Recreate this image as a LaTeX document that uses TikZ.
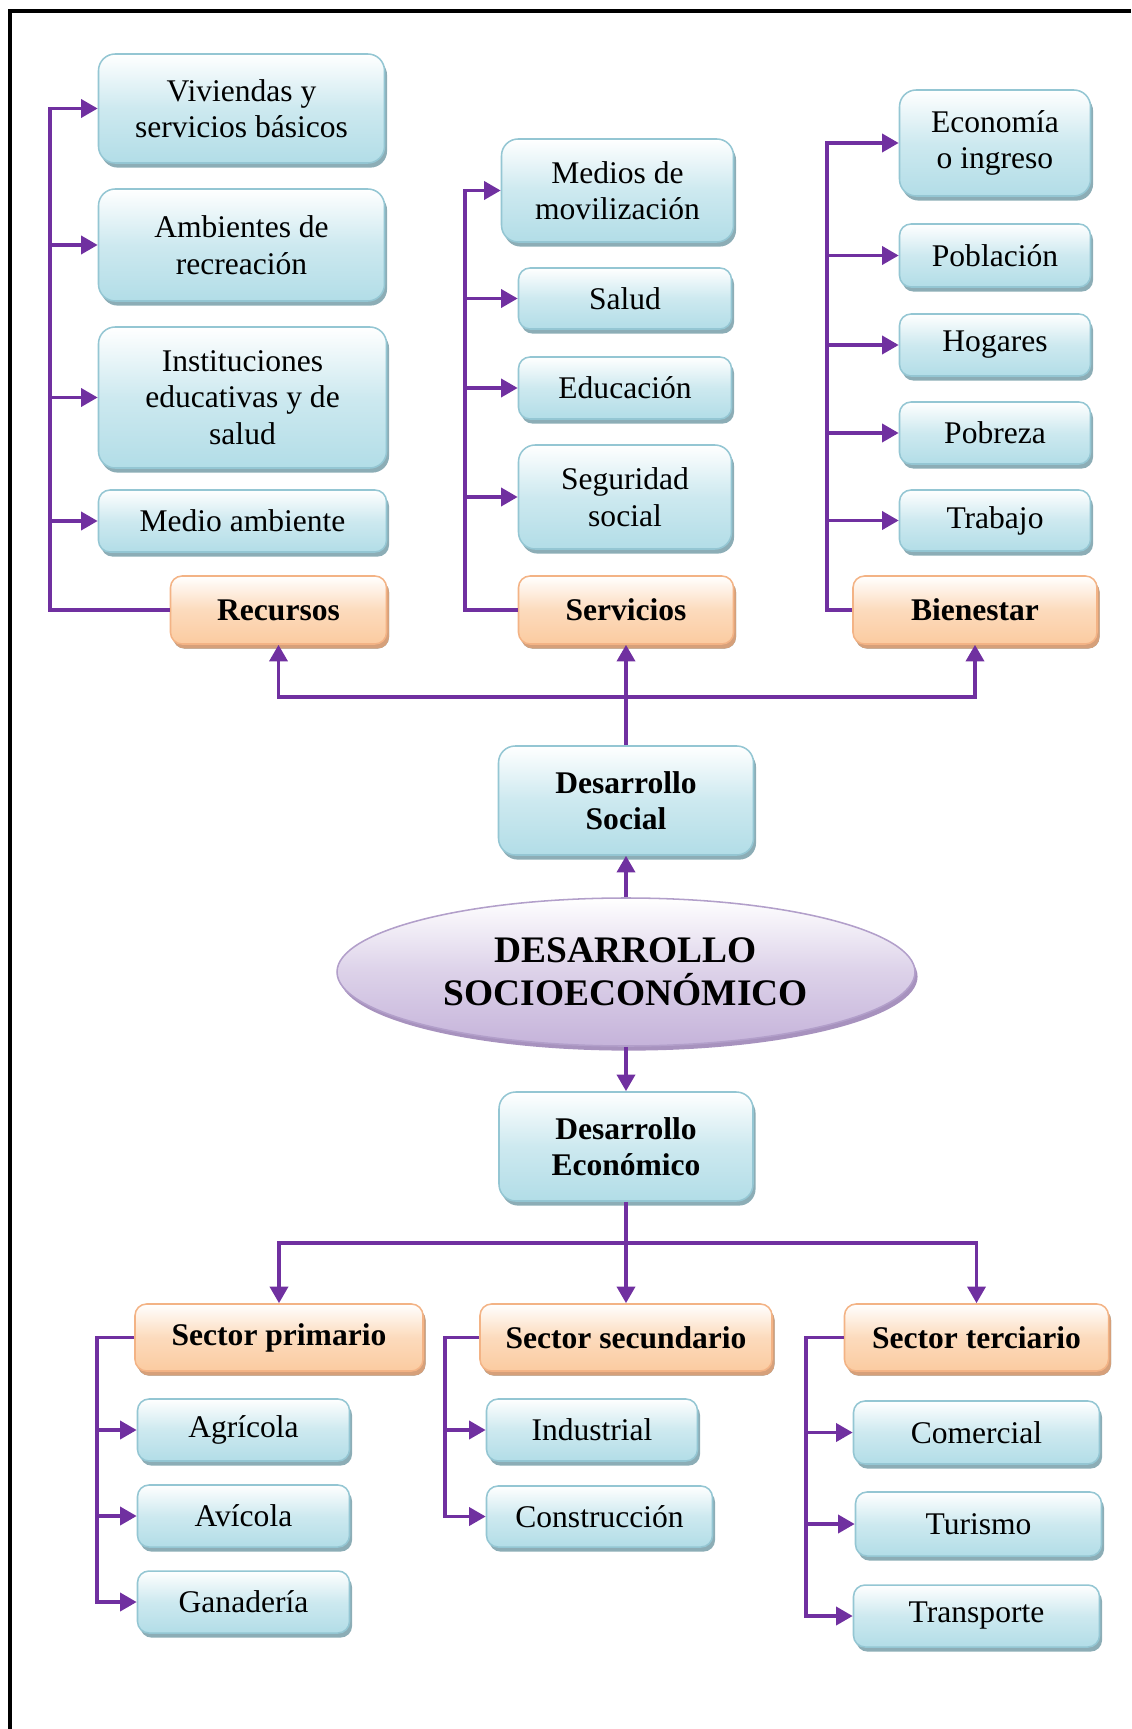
\documentclass[tikz,border=0pt]{standalone}
\usepackage{fontspec}
\setmainfont{Liberation Serif}
\usetikzlibrary{arrows.meta,shapes.geometric,shadows}
\newlength\pxu
\setlength\pxu{0.0137cm}
\definecolor{morado}{HTML}{7030A0}
\definecolor{azulbase}{HTML}{B2DDE7}
\definecolor{azulborde}{HTML}{94C6D3}
\definecolor{azulsombra}{HTML}{8CADB6}
\definecolor{narbase}{HTML}{FBCBA0}
\definecolor{narborde}{HTML}{F3B385}
\definecolor{narsombra}{HTML}{D6A07A}
\definecolor{lilabase}{HTML}{C5B3DA}
\definecolor{lilaborde}{HTML}{B29FCA}
\definecolor{lilasombra}{HTML}{A792BE}

\begin{document}
\begin{tikzpicture}[x=0.0137cm, y=-0.0137cm,
  tam/.style 2 args={minimum width={(#1-3)*\pxu}, minimum height={(#2-4)*\pxu}},
  caja/.style={rectangle, rounded corners=4.5pt, draw=azulborde, line width=0.6pt,
    top color=white, bottom color=azulbase, middle color=azulbase!65!white,
    drop shadow={shadow xshift=1pt, shadow yshift=-1.8pt, fill=azulsombra, opacity=1},
    align=center, inner sep=0pt, font=\fontsize{12.3}{14.2}\selectfont},
  alta/.style={rounded corners=6.5pt},
  grupo/.style={caja, draw=narborde, top color=white, bottom color=narbase,
    middle color=narbase!70!white,
    drop shadow={shadow xshift=1pt, shadow yshift=-1.8pt, fill=narsombra, opacity=1},
    font=\fontsize{12.3}{14.2}\selectfont\bfseries},
  central/.style={ellipse, draw=lilaborde, line width=0.6pt, inner sep=0pt,
    top color=white, bottom color=lilabase, middle color=lilabase!60!white,
    drop shadow={shadow xshift=1pt, shadow yshift=-1.8pt, fill=lilasombra, opacity=1},
    align=center, font=\fontsize{14.6}{16.8}\selectfont\bfseries},
  flecha/.style={draw=morado, line width=1.5pt, -{Triangle[length=6.5pt,width=7pt]}},
  linea/.style={draw=morado, line width=1.5pt}]
  \useasboundingbox (0,0) rectangle (1131,1729);
  % marco: solo se ven los lados izquierdo y superior
  \draw[line width=1.6pt] (10,1729) -- (10,11) -- (1131,11);

  % Recursos
  \node[caja, alta, tam={289}{113}] (viv) at (241.5,108.5) {Viviendas y\\servicios básicos};
  \node[caja, alta, tam={289}{116}] (amb) at (241.5,245) {Ambientes de\\recreación};
  \node[caja, alta, tam={291}{145}] (ins) at (242.5,397.5) {Instituciones\\educativas y de\\salud};
  \node[caja, tam={291}{66}] (med) at (242.5,521) {Medio ambiente};
  \node[grupo, tam={219}{72}] (rec) at (278.5,610) {Recursos};
  \coordinate (recT) at (50,610);

  % Servicios
  \node[caja, alta, tam={235}{107}] (mov) at (617.5,190.5) {Medios de\\movilización};
  \node[caja, tam={216}{65}] (sal) at (625,298.5) {Salud};
  \node[caja, tam={216}{66}] (edu) at (625,388) {Educación};
  \node[caja, alta, tam={216}{108}] (seg) at (625,497) {Seguridad\\social};
  \node[grupo, tam={218}{72}] (ser) at (626,610) {Servicios};
  \coordinate (serT) at (465,610);

  % Bienestar
  \node[caja, alta, tam={194}{110}] (eco) at (995,143) {Economía\\o ingreso};
  \node[caja, tam={194}{67}] (pob) at (995,255.5) {Población};
  \node[caja, tam={194}{66}] (hog) at (995,345) {Hogares};
  \node[caja, tam={194}{66}] (pzb) at (995,433) {Pobreza};
  \node[caja, tam={194}{65}] (tra) at (995,520.5) {Trabajo};
  \node[grupo, tam={247}{72}] (bie) at (975,610) {Bienestar};
  \coordinate (bieT) at (827,610);

  % centro
  \node[caja, alta, tam={258}{113}, font=\fontsize{12.3}{14.2}\selectfont\bfseries] (dsoc) at (626,800.5) {Desarrollo\\Social};
  \node[central, minimum width=578\pxu, minimum height=148\pxu] (socio) at (626,972) {DESARROLLO\\SOCIOECONÓMICO};
  \node[caja, alta, tam={257}{113}, font=\fontsize{12.3}{14.2}\selectfont\bfseries] (deco) at (626,1146.5) {Desarrollo\\Económico};
  \coordinate (busA) at (626,697);
  \coordinate (busB) at (626,1243);

  % sectores
  \node[grupo, tam={291}{71}] (sp) at (279,1337.5) {Sector primario};
  \node[grupo, tam={295}{71}] (ss) at (626,1337.5) {Sector secundario};
  \node[grupo, tam={267}{71}] (st) at (976.5,1337.5) {Sector terciario};
  \node[caja, tam={215}{66}] (agr) at (243.5,1430) {Agrícola};
  \node[caja, tam={215}{66}] (avi) at (243.5,1516) {Avícola};
  \node[caja, tam={215}{66}] (gan) at (243.5,1602) {Ganadería};
  \coordinate (spT) at (97,1337.5);
  \node[caja, tam={214}{66}] (ind) at (592,1430) {Industrial};
  \node[caja, tam={229}{65}] (con) at (599.5,1516.5) {Construcción};
  \coordinate (ssT) at (445,1337.5);
  \node[caja, tam={249}{67}] (com) at (976.5,1432.5) {Comercial};
  \node[caja, tam={249}{68}] (tur) at (978.5,1524) {Turismo};
  \node[caja, tam={249}{66}] (trn) at (976.5,1616) {Transporte};
  \coordinate (stT) at (806,1337.5);

  % ramas de arriba
  \draw[flecha] (rec.west) -- (recT) |- (viv.west);
  \draw[flecha] (recT |- amb.west) -- (amb.west);
  \draw[flecha] (recT |- ins.west) -- (ins.west);
  \draw[flecha] (recT |- med.west) -- (med.west);
  \draw[flecha] (ser.west) -- (serT) |- (mov.west);
  \draw[flecha] (serT |- sal.west) -- (sal.west);
  \draw[flecha] (serT |- edu.west) -- (edu.west);
  \draw[flecha] (serT |- seg.west) -- (seg.west);
  \draw[flecha] (bie.west) -- (bieT) |- (eco.west);
  \draw[flecha] (bieT |- pob.west) -- (pob.west);
  \draw[flecha] (bieT |- hog.west) -- (hog.west);
  \draw[flecha] (bieT |- pzb.west) -- (pzb.west);
  \draw[flecha] (bieT |- tra.west) -- (tra.west);

  % del centro hacia arriba y abajo
  \draw[flecha] (socio.north) -- (dsoc.south);
  \draw[flecha] (dsoc.north) -- (ser.south);
  \draw[flecha] (busA) -| (rec.south);
  \draw[flecha] (busA) -| (bie.south);
  \draw[flecha] (socio.south) -- (deco.north);
  \draw[flecha] (deco.south) -- (ss.north);
  \draw[flecha] (busB) -| (sp.north);
  \draw[flecha] (busB) -| (st.north);

  % ramas de abajo
  \draw[flecha] (sp.west) -- (spT) |- (gan.west);
  \draw[flecha] (spT |- agr.west) -- (agr.west);
  \draw[flecha] (spT |- avi.west) -- (avi.west);
  \draw[flecha] (ss.west) -- (ssT) |- (con.west);
  \draw[flecha] (ssT |- ind.west) -- (ind.west);
  \draw[flecha] (st.west) -- (stT) |- (trn.west);
  \draw[flecha] (stT |- com.west) -- (com.west);
  \draw[flecha] (stT |- tur.west) -- (tur.west);
\end{tikzpicture}
\end{document}
